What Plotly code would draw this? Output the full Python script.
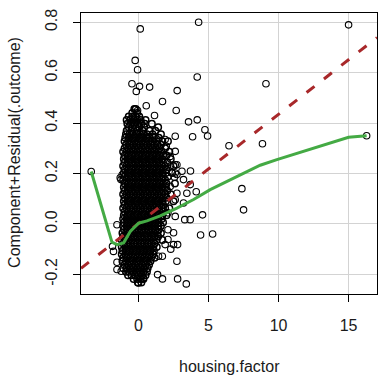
import plotly.graph_objects as go

# ---------------- data ----------------
# dense cloud of partial residuals, listed row by row (y level, x values)
cloud_y_levels = [0.456, 0.440, 0.426, 0.412, 0.398, 0.384, 0.370, 0.356, 0.342, 0.328,
                  0.314, 0.300, 0.286, 0.272, 0.258, 0.244, 0.230, 0.216, 0.202, 0.188,
                  0.174, 0.160, 0.146, 0.132, 0.118, 0.104, 0.090, 0.076, 0.062, 0.048,
                  0.034, 0.020, 0.006, -0.008, -0.022, -0.036, -0.050, -0.064, -0.078, -0.092,
                  -0.106, -0.120, -0.134, -0.148, -0.162, -0.176, -0.190, -0.204, -0.218, -0.232]
cloud_x_rows = [
    [-0.3, -0.2],
    [-0.45, -0.1],
    [-0.7, -0.45, -0.2, 0.05],
    [-0.85, -0.6, -0.35, -0.1, 0.15, 0.5],
    [-0.8, -0.55, -0.3, -0.05, 0.2, 0.45, 0.95],
    [-0.7, -0.45, -0.2, 0.05, 0.4, 1.4],
    [-0.85, -0.5, -0.1, 0.3, 0.8, 1.2],
    [-0.9, -0.65, -0.4, -0.15, 0.1, 0.35, 0.6, 1.0, 1.6],
    [-0.95, -0.7, -0.45, -0.2, 0.05, 0.3, 0.55, 0.8, 1.1, 1.45],
    [-1.0, -0.75, -0.5, -0.25, 0.0, 0.25, 0.5, 0.75, 1.0, 1.3, 1.7, 2.1],
    [-0.9, -0.65, -0.4, -0.15, 0.1, 0.35, 0.6, 0.85, 1.1, 1.35, 1.6],
    [-1.0, -0.75, -0.5, -0.25, 0.0, 0.25, 0.5, 0.75, 1.0, 1.25, 1.5, 1.9],
    [-1.1, -0.85, -0.6, -0.35, -0.1, 0.15, 0.4, 0.65, 0.9, 1.15, 1.4, 1.65, 2.2],
    [-1.0, -0.75, -0.5, -0.25, 0.0, 0.25, 0.5, 0.75, 1.0, 1.25, 1.5, 1.75, 2.0],
    [-1.05, -0.8, -0.55, -0.3, -0.05, 0.2, 0.45, 0.7, 0.95, 1.2, 1.45, 1.7, 2.3],
    [-1.0, -0.75, -0.5, -0.25, 0.0, 0.25, 0.5, 0.75, 1.0, 1.25, 1.5, 1.75, 2.05],
    [-1.1, -0.85, -0.6, -0.35, -0.1, 0.15, 0.4, 0.65, 0.9, 1.15, 1.4, 1.65, 1.9, 2.5],
    [-1.0, -0.75, -0.5, -0.25, 0.0, 0.25, 0.5, 0.75, 1.0, 1.25, 1.5, 1.75, 2.0],
    [-1.05, -0.8, -0.55, -0.3, -0.05, 0.2, 0.45, 0.7, 0.95, 1.2, 1.45, 1.7, 1.95, 2.4],
    [-1.0, -0.75, -0.5, -0.25, 0.0, 0.25, 0.5, 0.75, 1.0, 1.25, 1.5, 1.75, 2.1],
    [-1.1, -0.85, -0.6, -0.35, -0.1, 0.15, 0.4, 0.65, 0.9, 1.15, 1.4, 1.65, 1.9],
    [-1.0, -0.75, -0.5, -0.25, 0.0, 0.25, 0.5, 0.75, 1.0, 1.25, 1.5, 1.75, 2.0, 2.6],
    [-1.05, -0.8, -0.55, -0.3, -0.05, 0.2, 0.45, 0.7, 0.95, 1.2, 1.45, 1.7, 1.95],
    [-1.0, -0.75, -0.5, -0.25, 0.0, 0.25, 0.5, 0.75, 1.0, 1.25, 1.5, 1.75, 2.05],
    [-1.1, -0.85, -0.6, -0.35, -0.1, 0.15, 0.4, 0.65, 0.9, 1.15, 1.4, 1.65, 1.9, 2.3],
    [-1.0, -0.75, -0.5, -0.25, 0.0, 0.25, 0.5, 0.75, 1.0, 1.25, 1.5, 1.75, 2.0],
    [-1.05, -0.8, -0.55, -0.3, -0.05, 0.2, 0.45, 0.7, 0.95, 1.2, 1.45, 1.7, 1.95, 2.5],
    [-1.0, -0.75, -0.5, -0.25, 0.0, 0.25, 0.5, 0.75, 1.0, 1.25, 1.5, 1.75],
    [-1.1, -0.85, -0.6, -0.35, -0.1, 0.15, 0.4, 0.65, 0.9, 1.15, 1.4, 1.65, 1.9, 2.2],
    [-1.0, -0.75, -0.5, -0.25, 0.0, 0.25, 0.5, 0.75, 1.0, 1.25, 1.5, 1.75],
    [-1.05, -0.8, -0.55, -0.3, -0.05, 0.2, 0.45, 0.7, 0.95, 1.2, 1.45, 1.7, 2.0],
    [-1.1, -0.85, -0.6, -0.35, -0.1, 0.15, 0.4, 0.65, 0.9, 1.15, 1.4, 1.65],
    [-1.05, -0.8, -0.55, -0.3, -0.05, 0.2, 0.45, 0.7, 0.95, 1.2, 1.45, 1.75],
    [-1.1, -0.85, -0.6, -0.35, -0.1, 0.15, 0.4, 0.65, 0.9, 1.15, 1.4, 1.6],
    [-1.05, -0.8, -0.55, -0.3, -0.05, 0.2, 0.45, 0.7, 0.95, 1.2, 1.45],
    [-1.15, -0.9, -0.65, -0.4, -0.15, 0.1, 0.35, 0.6, 0.85, 1.1, 1.35, 1.6],
    [-1.1, -0.85, -0.6, -0.35, -0.1, 0.15, 0.4, 0.65, 0.9, 1.15, 1.4],
    [-1.2, -0.95, -0.7, -0.45, -0.2, 0.05, 0.3, 0.55, 0.8, 1.05, 1.3, 1.7],
    [-1.1, -0.85, -0.6, -0.35, -0.1, 0.15, 0.4, 0.65, 0.9, 1.15],
    [-1.2, -0.95, -0.7, -0.45, -0.2, 0.05, 0.3, 0.55, 0.8, 1.05, 1.3],
    [-1.15, -0.9, -0.65, -0.4, -0.15, 0.1, 0.35, 0.6, 0.85, 1.1],
    [-1.2, -0.95, -0.7, -0.45, -0.2, 0.05, 0.3, 0.55, 0.8, 1.05],
    [-1.1, -0.85, -0.6, -0.35, -0.1, 0.15, 0.4, 0.65, 0.9, 1.15],
    [-1.15, -0.9, -0.65, -0.4, -0.15, 0.1, 0.35, 0.6, 0.85],
    [-1.0, -0.75, -0.5, -0.25, 0.0, 0.25, 0.5, 0.75],
    [-1.1, -0.85, -0.6, -0.35, -0.1, 0.15, 0.4, 0.65],
    [-0.9, -0.65, -0.4, -0.15, 0.1, 0.35, 0.6],
    [-0.75, -0.5, -0.25, 0.0, 0.25, 0.5],
    [-0.35, -0.1, 0.15, 0.35],
    [-0.05, 0.2],
]

# isolated points around the cloud
outlier_x = [0.12, 4.29, 15.0, -0.24, -0.07, -0.47, 0.07, 0.79, -0.16, 2.76, 4.19, 9.1,
             1.71, 0.55, 2.69, -0.07, 1.14, 3.57, 4.19, 4.74, 4.93, 3.86, 2.62, -0.83,
             1.9, 6.46, 8.85, 16.29, -3.38, 3.71, 3.1, 2.74, 2.62, 7.38, 4.12, 7.5,
             4.57, 3.69, 4.43, 5.29, 2.79, 2.5, 1.9, 1.43, 2.74, 2.79, 3.41, 1.71,
             1.36, -1.54, -1.86, -1.79, -1.54, -1.54, -1.24, -1.26, -1.31, -1.17, 3.69,
             2.74, 2.57, 0.0, 0.36, 1.98, 2.26, 2.62, 2.26, 2.62, 3.21, 2.26, 2.74,
             3.45, 2.62, 3.21, 2.1, 2.62, 3.3, 2.1, 2.5, 2.1, 1.7, 2.3]
outlier_y = [0.774, 0.80, 0.79, 0.649, 0.612, 0.556, 0.546, 0.543, 0.526, 0.529, 0.583, 0.556,
             0.486, 0.469, 0.45, 0.45, 0.43, 0.405, 0.413, 0.374, 0.349, 0.346, 0.348, 0.37,
             0.335, 0.31, 0.318, 0.35, 0.208, 0.21, 0.209, 0.235, 0.235, 0.14, 0.128, 0.056,
             0.036, 0.017, -0.044, -0.04, -0.082, -0.082, -0.082, -0.128, -0.148, -0.218, -0.238, -0.218,
             -0.201, -0.003, -0.089, -0.109, -0.152, -0.181, -0.188, 0.176, 0.183, 0.195, 0.156,
             0.196, 0.185, -0.234, -0.214, 0.308, 0.268, 0.288, 0.229, 0.202, 0.176, 0.149, 0.122,
             0.122, 0.096, 0.083, 0.044, 0.030, 0.017, -0.023, -0.035, -0.062, -0.128, -0.1]

# linear component (dashed red) and smooth (green)
fit_intercept = 0.002
fit_slope = 0.0433
smooth_x = [-3.38, -1.9, -1.54, -1.07, -0.59, 0.0, 0.6, 1.55, 2.74, 3.93, 5.12, 6.31,
            7.5, 8.69, 9.88, 11.07, 12.26, 13.45, 15.0, 16.29]
smooth_y = [0.208, -0.072, -0.082, -0.075, -0.03, 0.003, 0.012, 0.032, 0.063, 0.097, 0.136, 0.169,
            0.2, 0.233, 0.255, 0.275, 0.295, 0.315, 0.344, 0.35]

x_ticks = [0, 5, 10, 15]
y_ticks = [-0.2, 0.0, 0.2, 0.4, 0.6, 0.8]
y_tick_text = ["-0.2", "0.0", "0.2", "0.4", "0.6", "0.8"]
x_range = [-4.11, 17.03]
y_range = [-0.278, 0.837]
x_label = "housing.factor"
y_label = "Component+Residual(.outcome)"

# ---------------- build ----------------
cloud_px, cloud_py = [], []
for yv, row in zip(cloud_y_levels, cloud_x_rows):
    for xv in row:
        cloud_px.append(xv)
        cloud_py.append(yv)

FONT = "Liberation Sans, Arial, sans-serif"
TXT = "#1a1a1a"

fig = go.Figure()
fig.add_trace(go.Scatter(
    x=cloud_px, y=cloud_py, mode="markers",
    marker=dict(symbol="circle-open", size=6.5, color="black", line=dict(width=1.5, color="black")),
    hoverinfo="skip", showlegend=False))
fig.add_trace(go.Scatter(
    x=outlier_x, y=outlier_y, mode="markers",
    marker=dict(symbol="circle-open", size=6.5, color="black", line=dict(width=1.1, color="black")),
    hoverinfo="skip", showlegend=False))
fig.add_trace(go.Scatter(
    x=x_range, y=[fit_intercept + fit_slope * v for v in x_range], mode="lines",
    line=dict(color="#A8282A", width=3, dash="10px,12px"), hoverinfo="skip", showlegend=False))
fig.add_trace(go.Scatter(
    x=smooth_x, y=smooth_y, mode="lines",
    line=dict(color="#44AA44", width=3), hoverinfo="skip", showlegend=False))

axis_common = dict(
    showline=True, mirror=True, linecolor="black", linewidth=1,
    ticks="outside", ticklen=7, tickcolor="black", tickwidth=1,
    showgrid=True, gridcolor="#D3D3D3", gridwidth=1, zeroline=False,
    automargin=False,
    tickfont=dict(family=FONT, size=16, color=TXT),
)
fig.update_xaxes(range=x_range, tickvals=x_ticks, ticklabelstandoff=10, **axis_common)
fig.update_yaxes(range=y_range, tickvals=y_ticks, ticktext=y_tick_text, tickangle=-90,
                 ticklabelstandoff=10, **axis_common)

fig.update_layout(
    width=382, height=386,
    margin=dict(l=81, r=5, t=13, b=92),
    paper_bgcolor="white", plot_bgcolor="white",
    font=dict(family=FONT, size=16, color=TXT),
    hovermode=False,
    annotations=[
        dict(text=x_label, xref="paper", yref="paper", x=0.5, y=-0.2577,
             xanchor="center", yanchor="middle", showarrow=False,
             font=dict(family=FONT, size=16, color=TXT)),
        dict(text=y_label, xref="paper", yref="paper", x=-0.227, y=0.505, textangle=-90,
             xanchor="center", yanchor="middle", showarrow=False,
             font=dict(family=FONT, size=16, color=TXT)),
    ],
)

fig.write_html("out.html", config={"displayModeBar": False},
               post_script="document.body.style.margin='0';document.body.style.padding='0';")
